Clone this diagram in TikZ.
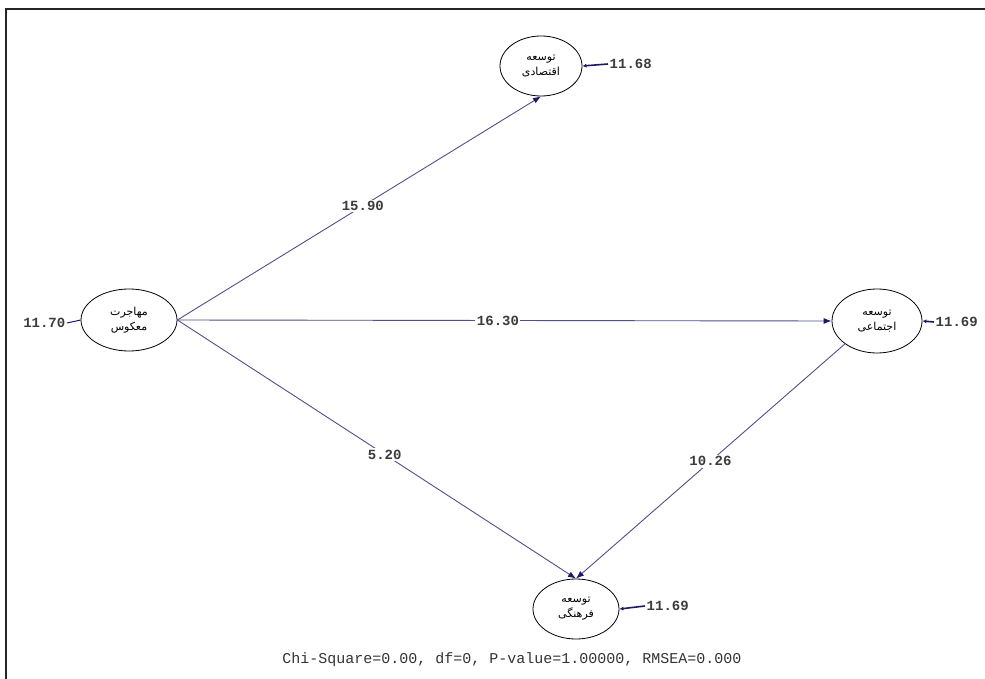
\documentclass[tikz,border=0pt]{standalone}
\usepackage{fontspec}
\setmonofont{Liberation Mono}
\newfontfamily\arabicfont[Script=Arabic]{DejaVu Sans}
\TeXXeTstate=1
\usetikzlibrary{shapes.geometric,arrows.meta}
\definecolor{pathcol}{RGB}{80,80,140}
\definecolor{tipcol}{RGB}{25,25,100}
\definecolor{numcol}{RGB}{60,60,60}
\tikzset{
  latent/.style={ellipse,draw=black,line width=0.8pt,inner sep=0pt,align=center,font=\arabicfont\fontsize{11}{15}\selectfont},
  num/.style={font=\ttfamily\bfseries\fontsize{14}{14}\selectfont,text=numcol,inner sep=1.5pt},
  elab/.style={num,fill=white},
  path arrow/.style={draw=pathcol,line width=0.9pt,-{Latex[length=8pt,width=6pt,color=tipcol]}},
  err arrow/.style={draw=tipcol,line width=1.6pt,-{Latex[length=4pt,width=4pt]}},
}
\begin{document}
\begin{tikzpicture}[x=1pt,y=-1pt]
\useasboundingbox (0,0) rectangle (985,679);
\draw[line width=2.5pt,black!85] (6,679) -- (6,9) -- (985,9);

\node[latent,minimum width=82pt,minimum height=60pt] (eco) at (541,66) {\beginR توسعه\endR\\\beginR اقتصادی\endR};
\node[latent,minimum width=96pt,minimum height=62pt] (mig) at (129,320) {\beginR مهاجرت\endR\\\beginR معکوس\endR};
\node[latent,minimum width=90pt,minimum height=64pt] (soc) at (877,321) {\beginR توسعه\endR\\\beginR اجتماعی\endR};
\node[latent,minimum width=86pt,minimum height=60pt] (cul) at (576,609) {\beginR توسعه\endR\\\beginR فرهنگی\endR};

\node[num,anchor=west] (ee) at (608,64) {11.68};
\node[num,anchor=east] (em) at (67,323) {11.70};
\node[num,anchor=west] (es) at (934,322) {11.69};
\node[num,anchor=west] (ec) at (645,606) {11.69};

\draw[err arrow] (ee.west) -- (eco.east);
\draw[draw=tipcol,line width=1pt] (em.east) -- (mig.west);
\draw[err arrow] (es.west) -- (soc.east);
\draw[err arrow] (ec.west) -- (cul.east);

\draw[path arrow] (mig.east) -- node[elab,pos=0.51] {15.90} (eco.south);
\draw[path arrow] (mig.east) -- node[elab,pos=0.49] {16.30} (soc.west);
\draw[path arrow] (mig.east) -- node[elab,pos=0.52] {5.20} (cul.north);
\draw[path arrow] (soc.south west) -- node[elab,pos=0.5] {10.26} (cul.north);

\node[font=\ttfamily\fontsize{15}{15}\selectfont,text=black!80,anchor=center] (fit) at (512,660) {Chi-Square=0.00, df=0, P-value=1.00000, RMSEA=0.000};
\end{tikzpicture}
\end{document}
